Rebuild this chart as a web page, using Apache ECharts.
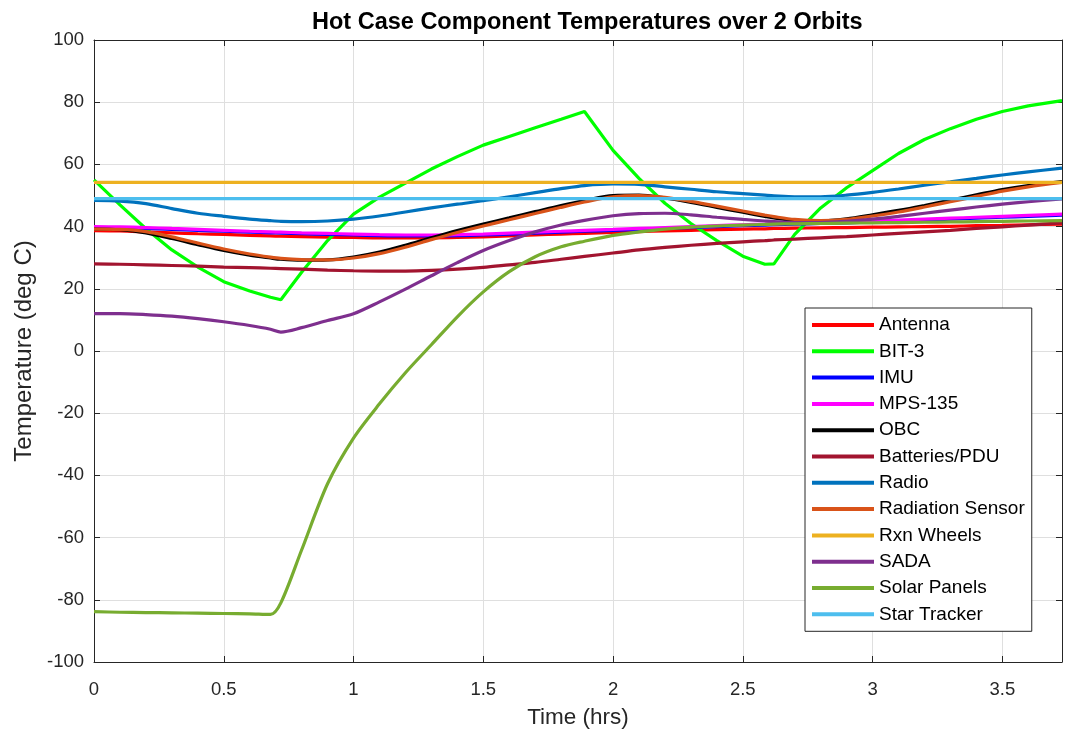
<!DOCTYPE html>
<html>
<head>
<meta charset="utf-8">
<script src="https://cdn.jsdelivr.net/npm/echarts@6/dist/echarts.min.js"></script>
<style>
html,body{margin:0;padding:0;background:#fff;}
#chart{width:1065px;height:734px;}
</style>
</head>
<body>
<div id="chart"></div>
<script>
// Time (hrs)
const time = [0, 0.1, 0.2, 0.3, 0.4, 0.5, 0.6, 0.68, 0.72, 0.8, 0.9, 1.0, 1.1, 1.2, 1.3, 1.4, 1.5, 1.6, 1.7, 1.8, 1.89, 2.0, 2.1, 2.2, 2.3, 2.4, 2.5, 2.585, 2.62, 2.7, 2.8, 2.9, 3.0, 3.1, 3.2, 3.3, 3.4, 3.5, 3.6, 3.73];

const antenna = [38.7, 38.6, 38.3, 38.0, 37.7, 37.5, 37.2, 37.0, 36.9, 36.8, 36.6, 36.5, 36.4, 36.4, 36.4, 36.5, 36.7, 37.0, 37.3, 37.6, 37.8, 38.1, 38.4, 38.6, 38.8, 39.0, 39.2, 39.3, 39.4, 39.5, 39.6, 39.7, 39.8, 39.9, 40.0, 40.1, 40.3, 40.4, 40.6, 40.8];
const bit3 = [55.0, 47.0, 39.3, 32.5, 27.0, 22.3, 19.3, 17.3, 16.5, 25.3, 35.5, 44.0, 49.5, 54.0, 58.5, 62.5, 66.2, 69.0, 71.8, 74.5, 77.0, 64.5, 55.5, 47.5, 41.0, 35.5, 30.5, 27.9, 28.0, 37.5, 46.0, 52.5, 58.0, 63.5, 68.0, 71.5, 74.5, 77.0, 78.8, 80.5];
const imu = [39.7, 39.6, 39.4, 39.1, 38.8, 38.5, 38.2, 38.0, 37.9, 37.7, 37.5, 37.3, 37.1, 37.0, 37.0, 37.1, 37.3, 37.6, 37.9, 38.2, 38.5, 38.8, 39.1, 39.4, 39.7, 40.0, 40.3, 40.5, 40.6, 40.8, 41.0, 41.2, 41.5, 41.8, 42.1, 42.4, 42.7, 43.0, 43.3, 43.7];
const mps135 = [40.0, 39.9, 39.7, 39.4, 39.1, 38.8, 38.5, 38.3, 38.2, 38.0, 37.8, 37.6, 37.4, 37.3, 37.3, 37.4, 37.6, 37.9, 38.2, 38.5, 38.8, 39.1, 39.4, 39.7, 40.0, 40.3, 40.6, 40.8, 40.9, 41.1, 41.3, 41.5, 41.8, 42.1, 42.4, 42.7, 43.0, 43.3, 43.6, 44.0];
const obc = [39.2, 39.0, 38.0, 36.2, 34.2, 32.3, 30.8, 29.9, 29.5, 29.2, 29.3, 30.2, 31.8, 34.0, 36.4, 38.7, 40.8, 42.8, 44.8, 46.8, 48.4, 50.0, 50.1, 49.2, 47.8, 46.2, 44.6, 43.3, 42.8, 42.0, 41.8, 42.5, 43.8, 45.2, 46.8, 48.5, 50.2, 51.9, 53.2, 54.5];
const batteries = [28.0, 27.9, 27.7, 27.5, 27.3, 27.0, 26.8, 26.6, 26.5, 26.3, 26.0, 25.8, 25.7, 25.7, 25.9, 26.3, 26.9, 27.7, 28.5, 29.5, 30.4, 31.5, 32.5, 33.3, 34.0, 34.6, 35.1, 35.5, 35.7, 36.0, 36.4, 36.8, 37.3, 37.8, 38.3, 38.8, 39.4, 39.9, 40.5, 41.2];
const radio = [48.4, 48.2, 47.4, 45.8, 44.3, 43.3, 42.4, 41.9, 41.7, 41.6, 41.8, 42.4, 43.4, 44.7, 46.0, 47.2, 48.3, 49.6, 50.9, 52.2, 53.2, 53.7, 53.6, 52.8, 52.0, 51.2, 50.6, 50.1, 49.9, 49.6, 49.6, 50.1, 51.0, 52.1, 53.3, 54.4, 55.5, 56.6, 57.6, 58.8];
const radSensor = [39.2, 39.1, 38.4, 36.7, 34.7, 32.8, 31.2, 30.2, 29.8, 29.4, 29.3, 29.9, 31.3, 33.4, 35.8, 38.1, 40.2, 42.2, 44.2, 46.2, 47.9, 49.6, 50.0, 49.4, 48.1, 46.6, 45.0, 43.7, 43.2, 42.3, 41.9, 42.3, 43.4, 44.7, 46.3, 48.0, 49.7, 51.4, 52.8, 54.2];
const rxnWheels = [54.2, 54.2, 54.2, 54.2, 54.2, 54.2, 54.2, 54.2, 54.2, 54.2, 54.2, 54.2, 54.2, 54.2, 54.2, 54.2, 54.2, 54.2, 54.2, 54.2, 54.2, 54.2, 54.2, 54.2, 54.2, 54.2, 54.2, 54.2, 54.2, 54.2, 54.2, 54.2, 54.2, 54.2, 54.2, 54.2, 54.2, 54.2, 54.2, 54.2];
const sada = [12.0, 12.0, 11.7, 11.2, 10.4, 9.4, 8.2, 7.0, 6.1, 7.5, 9.8, 12.0, 15.8, 19.9, 24.2, 28.4, 32.3, 35.5, 38.3, 40.5, 42.0, 43.5, 44.2, 44.3, 43.8, 43.0, 42.3, 41.8, 41.6, 41.3, 41.3, 41.7, 42.4, 43.3, 44.3, 45.3, 46.3, 47.2, 48.0, 48.9];
const solarPanels = [-83.8, -84.0, -84.1, -84.2, -84.3, -84.4, -84.5, -84.7, -81.0, -64.0, -42.7, -28.0, -17.0, -7.0, 2.0, 11.0, 19.0, 25.5, 30.3, 33.5, 35.3, 37.2, 38.3, 39.2, 39.8, 40.2, 40.5, 40.7, 40.8, 40.9, 41.0, 41.1, 41.2, 41.3, 41.4, 41.5, 41.6, 41.7, 41.8, 41.9];
const starTracker = [49.0, 49.0, 49.0, 49.0, 49.0, 49.0, 49.0, 49.0, 49.0, 49.0, 49.0, 49.0, 49.0, 49.0, 49.0, 49.0, 49.0, 49.0, 49.0, 49.0, 49.0, 49.0, 49.0, 49.0, 49.0, 49.0, 49.0, 49.0, 49.0, 49.0, 49.0, 49.0, 49.0, 49.0, 49.0, 49.0, 49.0, 49.0, 49.0, 49.0];

const seriesNames = ['Antenna', 'BIT-3', 'IMU', 'MPS-135', 'OBC', 'Batteries/PDU', 'Radio', 'Radiation Sensor', 'Rxn Wheels', 'SADA', 'Solar Panels', 'Star Tracker'];
const seriesValues = [antenna, bit3, imu, mps135, obc, batteries, radio, radSensor, rxnWheels, sada, solarPanels, starTracker];
const seriesColors = ['#FF0000', '#00FF00', '#0000FF', '#FF00FF', '#000000', '#A2142F', '#0072BD', '#D95319', '#EDB120', '#7E2F8E', '#77AC30', '#4DBEEE'];

const xTicks = [0, 0.5, 1, 1.5, 2, 2.5, 3, 3.5];
const yTicks = [-100, -80, -60, -40, -20, 0, 20, 40, 60, 80, 100];
const xMax = 3.73;

const FONT = '"Liberation Sans", Arial, Helvetica, sans-serif';
const AX = '#262626';

const chart = echarts.init(document.getElementById('chart'), null, {renderer: 'canvas'});

const series = seriesNames.map((name, i) => ({
  name: name,
  type: 'line',
  xAxisIndex: 0,
  yAxisIndex: 0,
  symbol: 'none',
  showSymbol: false,
  smooth: name === 'BIT-3' ? false : 0.3,
  animation: false,
  color: seriesColors[i],
  lineStyle: {color: seriesColors[i], width: 3.2},
  data: time.map((t, k) => [t, seriesValues[i][k]])
}));

const baseX = {
  type: 'value', min: 0, max: xMax, interval: 0.5
};

chart.setOption({
  animation: false,
  backgroundColor: '#ffffff',
  title: {
    text: 'Hot Case Component Temperatures over 2 Orbits',
    left: 307,
    top: 6,
    textStyle: {fontFamily: FONT, fontSize: 23.5, fontWeight: 'bold', color: '#000'}
  },
  grid: {left: 94, right: 3, top: 40, bottom: 71, containLabel: false},
  legend: {
    orient: 'vertical',
    left: 805,
    top: 308,
    padding: [7, 7, 7, 7],
    icon: 'rect',
    itemWidth: 62,
    itemHeight: 4,
    itemGap: 6.3,
    backgroundColor: '#ffffff',
    borderColor: AX,
    borderWidth: 1,
    borderRadius: 0,
    data: seriesNames,
    textStyle: {fontFamily: FONT, fontSize: 19, color: '#000', lineHeight: 20}
  },
  xAxis: [
    Object.assign({}, baseX, {
      position: 'bottom',
      name: 'Time (hrs)',
      nameLocation: 'middle',
      nameGap: 44,
      nameTextStyle: {fontFamily: FONT, fontSize: 22.5, color: AX},
      axisLine: {show: true, onZero: false, lineStyle: {color: AX, width: 1}},
      axisTick: {show: true, inside: true, length: 6, lineStyle: {color: AX}},
      axisLabel: {
        show: true, margin: 18, showMaxLabel: false,
        fontFamily: FONT, fontSize: 18.5, color: AX,
        formatter: v => (xTicks.indexOf(v) >= 0 ? String(v) : '')
      },
      splitLine: {show: true, lineStyle: {color: '#dfdfdf', width: 1}}
    }),
    Object.assign({}, baseX, {
      position: 'top',
      axisLine: {show: true, onZero: false, lineStyle: {color: AX, width: 1}},
      axisTick: {show: true, inside: true, length: 6, lineStyle: {color: AX}},
      axisLabel: {show: false},
      splitLine: {show: false}
    })
  ],
  yAxis: [
    {
      type: 'value', min: -100, max: 100, interval: 20,
      position: 'left',
      name: 'Temperature (deg C)',
      nameLocation: 'middle',
      nameGap: 58,
      nameRotate: 90,
      nameTextStyle: {fontFamily: FONT, fontSize: 24, color: AX},
      axisLine: {show: true, onZero: false, lineStyle: {color: AX, width: 1}},
      axisTick: {show: true, inside: true, length: 6, lineStyle: {color: AX}},
      axisLabel: {
        show: true, margin: 10, fontFamily: FONT, fontSize: 18.5, color: AX,
        formatter: v => (yTicks.indexOf(v) >= 0 ? String(v) : '')
      },
      splitLine: {show: true, lineStyle: {color: '#dfdfdf', width: 1}}
    },
    {
      type: 'value', min: -100, max: 100, interval: 20,
      position: 'right',
      axisLine: {show: true, onZero: false, lineStyle: {color: AX, width: 1}},
      axisTick: {show: true, inside: true, length: 6, lineStyle: {color: AX}},
      axisLabel: {show: false},
      splitLine: {show: false}
    }
  ],
  series: series
});
</script>
</body>
</html>
